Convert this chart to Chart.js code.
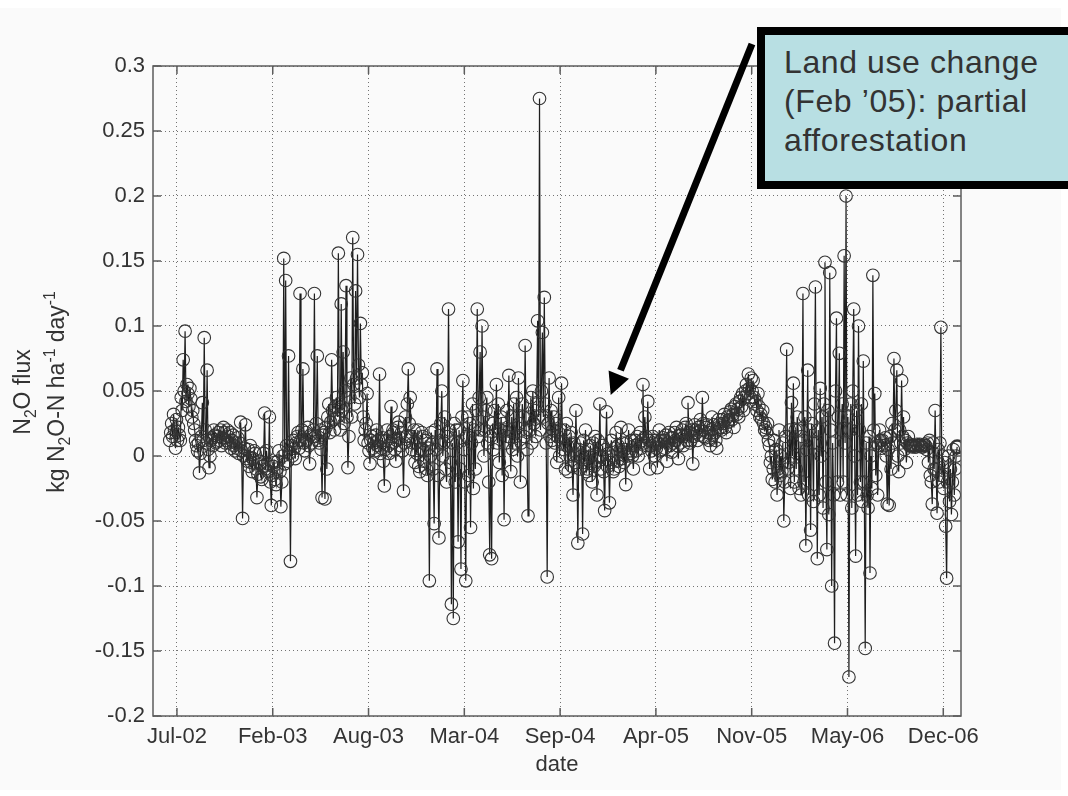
<!DOCTYPE html>
<html>
<head>
<meta charset="utf-8">
<title>N2O flux</title>
<script src="https://cdn.jsdelivr.net/npm/chart.js@4.4.1/dist/chart.umd.min.js"></script>
<style>
  html, body { margin: 0; padding: 0; background: #fff; overflow: hidden; }
  #figure { position: relative; width: 1068px; height: 796px; font-family: "Liberation Sans", Arial, sans-serif; color: #333; }
  #paper { position: absolute; left: 0; top: 8px; width: 1061px; height: 782px; background: #fafafa; }
  #chart-wrap { position: absolute; left: 0; top: 0; width: 1068px; height: 796px; }
  #ytitle {
    position: absolute; left: -110px; top: 357px; width: 300px; height: 70px;
    transform: rotate(-90deg); text-align: center; font-size: 23px; line-height: 34px; white-space: nowrap;
  }
  #ytitle sub, #ytitle sup { font-size: 68%; line-height: 0; }
  #arrow { position: absolute; left: 0; top: 0; pointer-events: none; }
  #note {
    position: absolute; left: 757px; top: 27px; width: 330px; height: 162px; box-sizing: border-box;
    border: 8px solid #000; background: #b8dfe3; padding: 8px 0 0 19px;
    font-size: 32px; letter-spacing: 0.6px; line-height: 39px; color: #333;
  }
</style>
</head>
<body>
<div id="figure">
  <div id="paper"></div>
  <div id="chart-wrap"><canvas id="fluxChart" width="1068" height="796"></canvas></div>
  <div id="ytitle">N<sub>2</sub>O flux<br>kg N<sub>2</sub>O-N ha<sup>-1</sup> day<sup>-1</sup></div>
  <svg id="arrow" width="1068" height="796">
    <line x1="752" y1="44" x2="620.5" y2="370.3" stroke="#000" stroke-width="7"/>
    <polygon points="610.7,395 629,378.7 608.6,370.5" fill="#000"/>
  </svg>
  <div id="note">Land use change<br>(Feb ’05): partial<br>afforestation</div>
</div>
<script>
// AXES
const xTickDays = [0, 200, 400, 600, 800, 1000, 1200, 1400, 1600];
const xTickLabels = ['Jul-02', 'Feb-03', 'Aug-03', 'Mar-04', 'Sep-04', 'Apr-05', 'Nov-05', 'May-06', 'Dec-06'];
const yTickValues = [-0.2, -0.15, -0.1, -0.05, 0, 0.05, 0.1, 0.15, 0.2, 0.25, 0.3];

// N2O FLUX - one value every 2 days, days counted from the Jul-02 tick
const firstDay = -15;
const stepDays = 2;
const n2oFlux = [
  // Jul 2002 - Jan 2003
  0.012, 0.018, 0.025, 0.015, 0.032, 0.02, 0.006, 0.028, 0.012, 0.022, 0.016, 0.012, 0.045, 0.035, 0.074, 0.05, 0.096, 0.042, 0.055, 0.048, 0.038, 0.052, 0.044, 0.03, 0.035,
  0.025, 0.02, 0.012, 0.008, 0.004, 0.01, -0.013, 0.002, 0.015, 0.041, 0.012, 0.091, 0.02, 0.01, 0.066, 0.005, -0.009, 0.0, 0.012, 0.014, 0.008, 0.02, 0.016, 0.01, 0.011,
  0.015, 0.018, 0.012, 0.02, 0.008, 0.014, 0.022, 0.018, 0.01, 0.012, 0.02, 0.015, 0.01, 0.018, 0.006, 0.012, 0.016, 0.008, 0.004, 0.01, 0.006, 0.014, 0.002, 0.01, 0.026,
  0.004, -0.048, 0.0, 0.006, 0.024, -0.002, -0.004, 0.005, -0.008, 0.008, -0.005, -0.012, -0.002, 0.004, 0.002, -0.01, -0.032, -0.014, -0.004, -0.006, -0.016, -0.018, -0.008, 0.002, 0.033,
  // Feb - Aug 2003
  -0.01, 0.004, -0.006, -0.012, 0.03, -0.02, -0.038, -0.015, -0.008, -0.005, -0.018, -0.022, -0.01, -0.004, 0.004, -0.012, -0.039, -0.02, 0.0, 0.152, -0.006, 0.135, 0.008, -0.004, 0.077,
  0.002, -0.081, 0.008, 0.0, 0.012, 0.006, -0.002, 0.01, 0.015, 0.018, 0.006, 0.125, 0.012, 0.02, 0.067, 0.01, 0.004, 0.018, 0.012, 0.022, 0.008, -0.006, 0.016, 0.01, 0.015,
  0.02, 0.125, 0.015, 0.025, 0.077, 0.012, 0.01, 0.02, 0.005, -0.032, 0.016, 0.018, -0.033, 0.022, -0.01, 0.03, 0.04, 0.018, 0.026, 0.074, 0.035, 0.028, 0.02, 0.038, 0.045,
  0.03, 0.156, 0.04, 0.02, 0.117, 0.035, 0.08, 0.025, 0.05, 0.131, 0.03, -0.009, 0.015, 0.045, 0.06, 0.03, 0.168, 0.055, 0.04, 0.127, 0.06, 0.155, 0.07, 0.045, 0.102,
  // Aug 2003 - Mar 2004
  0.055, 0.064, 0.03, 0.012, 0.02, 0.025, 0.048, 0.01, 0.004, -0.006, 0.012, 0.015, 0.006, 0.01, 0.004, 0.016, 0.02, 0.008, 0.012, 0.063, 0.002, 0.006, 0.014, -0.004, -0.023,
  0.005, 0.012, 0.02, 0.008, 0.002, 0.015, 0.038, 0.01, 0.02, 0.018, 0.005, -0.004, 0.012, 0.022, 0.026, 0.014, 0.008, 0.018, 0.004, -0.027, 0.01, 0.03, 0.015, 0.04, 0.067,
  0.025, 0.045, 0.015, 0.005, 0.01, 0.02, -0.005, 0.01, 0.002, 0.02, -0.008, -0.012, 0.005, 0.018, 0.015, -0.004, 0.004, 0.012, -0.01, -0.015, 0.006, -0.096, 0.0, 0.018, 0.01,
  -0.01, -0.052, 0.02, 0.005, 0.067, -0.015, -0.063, 0.01, 0.025, 0.05, 0.0, 0.01, 0.03, -0.01, -0.02, 0.015, 0.113, 0.02, -0.005, -0.114, 0.01, -0.125, 0.025, -0.02, 0.02,
  // Mar - Sep 2004
  0.01, -0.066, 0.02, -0.01, -0.087, 0.03, 0.058, 0.005, -0.02, -0.096, 0.015, 0.03, -0.015, 0.025, -0.055, 0.01, 0.04, -0.025, 0.02, -0.01, 0.035, 0.113, 0.015, 0.045, 0.08,
  0.02, 0.1, 0.03, 0.0, 0.02, 0.035, 0.045, 0.01, -0.02, -0.076, 0.015, -0.079, 0.025, 0.005, 0.035, 0.02, 0.055, 0.01, 0.04, -0.005, 0.02, 0.03, -0.015, 0.025, -0.049,
  0.02, 0.01, 0.035, 0.015, 0.062, 0.02, -0.012, 0.03, 0.005, 0.04, 0.01, 0.015, 0.045, 0.0, 0.06, 0.025, -0.02, 0.01, 0.04, 0.03, 0.015, 0.085, 0.02, 0.005, -0.046,
  0.03, 0.02, 0.045, 0.01, 0.05, 0.025, 0.035, 0.015, 0.04, 0.104, 0.03, 0.275, 0.02, 0.05, 0.095, 0.03, 0.122, 0.04, 0.01, -0.093, 0.025, 0.06, 0.015, 0.035, 0.012,
  // Sep 2004 - Apr 2005
  0.02, 0.03, 0.01, 0.025, -0.005, 0.015, 0.045, 0.0, 0.02, 0.056, 0.01, 0.005, 0.02, -0.01, 0.025, 0.008, -0.012, 0.015, 0.0, 0.018, -0.008, -0.03, 0.01, -0.005, 0.035,
  0.0, -0.067, 0.005, -0.01, 0.01, 0.0, -0.06, 0.012, -0.005, 0.02, -0.012, -0.01, 0.005, -0.015, 0.008, 0.0, -0.02, 0.01, -0.008, 0.015, -0.004, -0.03, 0.012, 0.0, 0.04,
  -0.01, 0.0, 0.008, -0.012, -0.042, 0.005, 0.034, -0.008, 0.002, -0.036, -0.005, 0.012, 0.0, -0.012, -0.01, 0.006, 0.018, -0.004, 0.008, -0.008, 0.004, 0.022, -0.002, 0.01, -0.005,
  0.005, -0.022, 0.01, 0.0, 0.02, 0.004, 0.002, 0.012, 0.0, -0.01, 0.008, 0.012, 0.004, 0.015, 0.0, 0.01, 0.018, 0.006, 0.012, 0.055, 0.01, 0.03, 0.015, 0.008, 0.042,
  // Apr - Nov 2005
  0.012, -0.01, 0.008, 0.004, 0.015, 0.01, 0.0, 0.012, 0.006, -0.009, 0.01, 0.02, 0.004, 0.012, 0.005, 0.014, 0.012, 0.006, 0.016, -0.004, 0.01, 0.018, 0.008, 0.014, 0.003,
  0.014, 0.01, 0.018, 0.012, 0.022, 0.008, -0.002, 0.016, 0.01, 0.016, 0.02, 0.008, 0.015, 0.022, 0.025, 0.012, 0.041, 0.018, 0.01, 0.012, 0.02, -0.006, 0.015, 0.024, 0.02,
  0.018, 0.012, 0.022, 0.016, 0.028, 0.02, 0.045, 0.025, 0.015, 0.014, 0.022, 0.024, 0.018, 0.012, 0.008, 0.02, 0.03, 0.016, 0.024, 0.018, 0.012, 0.006, 0.02, 0.028, 0.025,
  0.022, 0.02, 0.028, 0.025, 0.032, 0.022, 0.018, 0.03, 0.026, 0.028, 0.034, 0.036, 0.028, 0.032, 0.022, 0.038, 0.04, 0.032, 0.036, 0.03, 0.042, 0.045, 0.038, 0.048, 0.035,
  // Nov 2005 - May 2006
  0.045, 0.05, 0.055, 0.048, 0.063, 0.052, 0.045, 0.06, 0.05, 0.058, 0.045, 0.04, 0.042, 0.035, 0.048, 0.038, 0.03, 0.032, 0.028, 0.035, 0.025, 0.02, 0.022, 0.018, 0.025,
  0.012, 0.008, -0.005, 0.0, -0.018, -0.01, 0.012, -0.02, 0.005, -0.03, -0.01, 0.02, -0.015, 0.0, -0.012, 0.01, -0.05, -0.02, 0.015, 0.082, -0.01, -0.005, 0.02, -0.025, 0.041,
  0.0, 0.056, -0.02, 0.02, -0.01, 0.03, 0.02, -0.025, 0.01, -0.03, 0.015, 0.125, -0.02, 0.03, -0.069, 0.005, 0.066, -0.03, 0.02, -0.057, 0.025, 0.01, -0.035, 0.04, 0.13,
  0.01, -0.079, 0.02, -0.03, 0.052, 0.0, 0.03, -0.04, 0.04, 0.149, -0.02, -0.072, 0.035, -0.045, 0.141, 0.02, -0.1, 0.01, -0.03, -0.144, 0.05, 0.106, -0.02, 0.03, 0.079,
  // May 2006 - Jan 2007
  -0.03, 0.02, 0.04, -0.02, 0.154, 0.01, 0.2, -0.03, 0.03, -0.17, 0.02, 0.04, -0.04, 0.05, 0.113, 0.0, -0.077, 0.035, -0.03, 0.1, 0.02, -0.02, 0.04, -0.035, 0.073,
  -0.02, -0.148, 0.01, -0.03, -0.04, 0.015, -0.09, 0.0, -0.025, 0.139, 0.02, 0.048, -0.015, 0.01, -0.03, 0.008, 0.02, 0.012, 0.006, 0.012, 0.01, 0.008, 0.014, 0.0, -0.037,
  0.005, -0.038, 0.015, -0.01, 0.025, 0.01, 0.075, 0.02, 0.035, 0.066, 0.0, -0.012, 0.02, 0.01, 0.058, 0.015, 0.03, 0.005, 0.012, -0.005, 0.01, 0.015, 0.008, 0.009, 0.008,
  0.007, 0.008, 0.008, 0.007, 0.007, 0.009, 0.008, 0.008, 0.009, 0.008, 0.007, 0.007, 0.008, 0.009, 0.008, 0.005, 0.01, -0.005, 0.012, -0.015, -0.02, -0.037, 0.01, -0.01, 0.035,
  -0.01, -0.044, 0.005, -0.02, 0.01, 0.099, -0.015, 0.0, -0.025, -0.005, -0.054, -0.094, -0.02, 0.0, -0.035, -0.01, -0.045, -0.02, 0.005, -0.03, -0.01, 0.0, 0.007
];

const fluxPoints = n2oFlux.map((v, i) => ({ x: firstDay + i * stepDays, y: v }));

// matlab style box round the axes, ticks pointing inwards
const axesBox = {
  id: 'axesBox',
  afterDraw(chart) {
    const { ctx, chartArea: a, scales } = chart;
    ctx.save();
    ctx.strokeStyle = '#5c5c5c';
    ctx.lineWidth = 1.5;
    ctx.strokeRect(a.left, a.top, a.right - a.left, a.bottom - a.top);
    ctx.beginPath();
    scales.x.ticks.forEach(t => {
      const px = scales.x.getPixelForValue(t.value);
      ctx.moveTo(px, a.bottom); ctx.lineTo(px, a.bottom - 8);
      ctx.moveTo(px, a.top); ctx.lineTo(px, a.top + 8);
    });
    scales.y.ticks.forEach(t => {
      const py = scales.y.getPixelForValue(t.value);
      ctx.moveTo(a.left, py); ctx.lineTo(a.left + 8, py);
      ctx.moveTo(a.right, py); ctx.lineTo(a.right - 8, py);
    });
    ctx.stroke();
    ctx.restore();
  }
};

Chart.defaults.font.family = '"Liberation Sans", Arial, sans-serif';
Chart.defaults.font.size = 22;
Chart.defaults.color = '#333';

const fluxChart = new Chart(document.getElementById('fluxChart').getContext('2d'), {
  type: 'line',
  data: {
    datasets: [{
      data: fluxPoints,
      borderColor: '#1e1e1e',
      borderWidth: 1.2,
      tension: 0,
      pointStyle: 'circle',
      pointRadius: 6.3,
      pointBackgroundColor: 'rgba(0,0,0,0)',
      pointBorderColor: '#333',
      pointBorderWidth: c => (c.dataIndex === n2oFlux.length - 1 ? 2.5 : 1.1)
    }]
  },
  options: {
    responsive: false,
    animation: false,
    layout: { padding: { left: 80, top: 66, right: 107, bottom: 18 } },
    plugins: { legend: { display: false }, tooltip: { enabled: false } },
    scales: {
      x: {
        type: 'linear',
        min: -50,
        max: 1637,
        afterBuildTicks: s => { s.ticks = xTickDays.map(v => ({ value: v })); },
        afterFit: s => { s.height = 62; },
        ticks: {
          padding: 8,
          maxRotation: 0,
          autoSkip: false,
          callback: v => xTickLabels[xTickDays.indexOf(v)]
        },
        grid: { color: 'rgba(70,70,70,0.75)', lineWidth: 1, drawTicks: false },
        border: { display: false, dash: [1, 3] },
        title: { display: true, text: 'date', font: { size: 22 }, padding: { top: 0, bottom: 0 } }
      },
      y: {
        min: -0.2,
        max: 0.3,
        afterBuildTicks: s => { s.ticks = yTickValues.map(v => ({ value: v })); },
        afterFit: s => { s.width = 73; },
        ticks: { padding: 8, callback: v => String(v) },
        grid: { color: 'rgba(70,70,70,0.75)', lineWidth: 1, drawTicks: false },
        border: { display: false, dash: [1, 3] }
      }
    }
  },
  plugins: [axesBox]
});
</script>
</body>
</html>
